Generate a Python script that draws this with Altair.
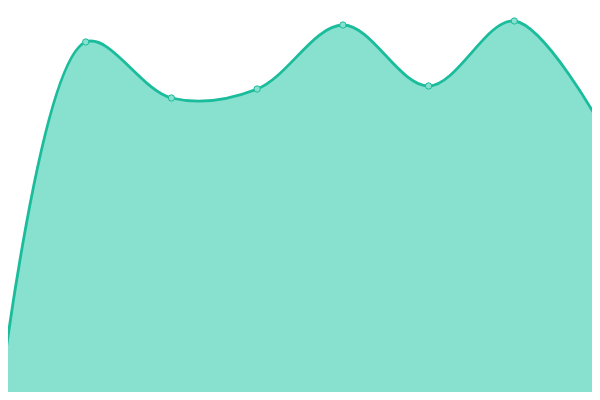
import altair as alt
import pandas as pd

# index of each point along the x axis
idx = [0, 1, 2, 3, 4, 5, 6, 7]
# values (height above baseline)
values = [3, 358, 302, 311, 375, 314, 379, 276]

line_color = "#1abc9c"
fill_color = "#88e0cf"

df = pd.DataFrame({"i": idx, "v": values})

x = alt.X("i:Q", axis=None, scale=alt.Scale(domain=[0.0933, 6.9067], nice=False, zero=False))
y = alt.Y("v:Q", axis=None, scale=alt.Scale(domain=[8, 392], nice=False, zero=False))

area = alt.Chart(df).mark_area(
    interpolate="catmull-rom",
    color=fill_color,
    opacity=1,
    line={"color": line_color, "strokeWidth": 2.8},
    clip=True,
).encode(x=x, y=y)

pts = alt.Chart(df).mark_point(
    filled=True,
    fill=fill_color,
    stroke=line_color,
    strokeWidth=1,
    size=40,
    opacity=1,
    clip=True,
).encode(x=x, y=y)

chart = (area + pts).properties(width=584, height=384, padding=0, autosize="none", background="white").configure_view(stroke=None)

chart.save("out.html", embed_options={"renderer": "svg", "actions": False})
